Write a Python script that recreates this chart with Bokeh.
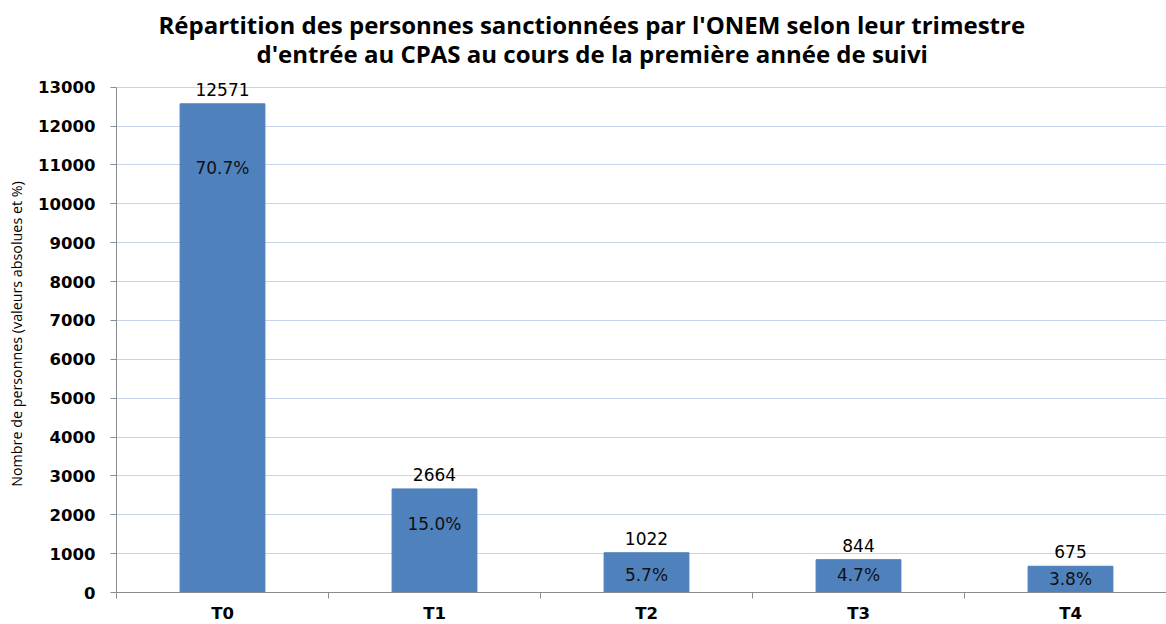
from bokeh.plotting import figure
from bokeh.models import ColumnDataSource, FixedTicker, LabelSet, Title, Range1d
from bokeh.core.properties import value
from bokeh.embed import file_html
from bokeh.resources import INLINE

# ---- data ----
categories = ["T0", "T1", "T2", "T3", "T4"]
counts = [12571, 2664, 1022, 844, 675]
pct_labels = ["70.7%", "15.0%", "5.7%", "4.7%", "3.8%"]
y_ticks = list(range(0, 13001, 1000))

title_line1 = "Répartition des personnes sanctionnées par l'ONEM selon leur trimestre"
title_line2 = "d'entrée au CPAS au cours de la première année de suivi"
y_label = "Nombre de personnes (valeurs absolues et %)"

# ---- styling (screen offsets for the percentage labels, px relative to bar top) ----
pct_offsets_px = [-64, -35, -22, -15, -13]

xs = list(range(len(categories)))
src = ColumnDataSource(dict(
    x=xs, count=counts, count_txt=[str(c) for c in counts],
    pct=pct_labels, pct_off=pct_offsets_px,
))

p = figure(
    frame_width=1050, frame_height=517,
    x_range=Range1d(-0.5, -0.5 + 1050 / 212), y_range=Range1d(0, 13300),
    output_backend="svg", toolbar_location=None,
    min_border_left=116, min_border_right=0, min_border_top=75, min_border_bottom=32,
    background_fill_color="white", border_fill_color="white",
)
p.outline_line_color = None

# titles
p.title.text = title_line1
p.title.align = "left"
p.title.offset = 42
p.title.standoff = -24
p.title.text_font = "Open Sans"
p.title.text_font_size = "24px"
p.title.text_font_style = "bold"
p.title.text_color = "black"
t2 = Title(text=title_line2, align="left", offset=140, standoff=12, text_font="Open Sans",
           text_font_size="24px", text_font_style="bold", text_color="black")
p.add_layout(t2, "above")

# bars
p.vbar(x="x", top="count", width=0.4, source=src,
       fill_color="#4F81BD", line_color="#4A7EBB")

# labels
p.add_layout(LabelSet(x="x", y="count", text="count_txt", source=src,
                      y_offset=8, text_align="center", text_baseline="bottom",
                      text_font=value("DejaVu Sans"), text_font_size=value("17px"),
                      text_color="black"))
p.add_layout(LabelSet(x="x", y="count", text="pct", source=src,
                      y_offset="pct_off", text_align="center", text_baseline="middle",
                      text_font=value("DejaVu Sans"), text_font_size=value("17px"),
                      text_color="#111111"))

# grid
p.xgrid.grid_line_color = None
p.ygrid.ticker = FixedTicker(ticks=y_ticks)
p.ygrid.grid_line_color = "#C6D5EA"
p.ygrid.grid_line_width = 1

# y axis
ya = p.yaxis[0]
ya.ticker = FixedTicker(ticks=y_ticks)
ya.bounds = (0, 13000)
ya.axis_line_color = "#8C8C8C"
ya.major_tick_line_color = "#8C8C8C"
ya.major_tick_out = 6
ya.major_tick_in = 0
ya.minor_tick_line_color = None
ya.major_label_text_font = "DejaVu Sans"
ya.major_label_text_font_style = "bold"
ya.major_label_text_font_size = "16.5px"
ya.major_label_text_color = "black"
ya.major_label_standoff = 15
ya.axis_label = y_label
ya.axis_label_text_font = "Open Sans"
ya.axis_label_text_font_style = "normal"
ya.axis_label_text_font_size = "14.3px"
ya.axis_label_text_color = "black"
ya.axis_label_standoff = 9

# x axis
xa = p.xaxis[0]
xa.ticker = FixedTicker(ticks=xs, minor_ticks=[i - 0.5 for i in range(len(categories) + 1)])
xa.major_label_overrides = {i: c for i, c in enumerate(categories)}
xa.axis_line_color = "#8C8C8C"
xa.major_tick_line_color = None
xa.major_tick_out = 0
xa.major_tick_in = 0
xa.minor_tick_line_color = "#8C8C8C"
xa.minor_tick_out = 6
xa.minor_tick_in = 0
xa.major_label_text_font = "DejaVu Sans"
xa.major_label_text_font_style = "bold"
xa.major_label_text_font_size = "16.5px"
xa.major_label_text_color = "black"
xa.major_label_standoff = 5

open("out.html", "w").write(file_html(p, INLINE))
